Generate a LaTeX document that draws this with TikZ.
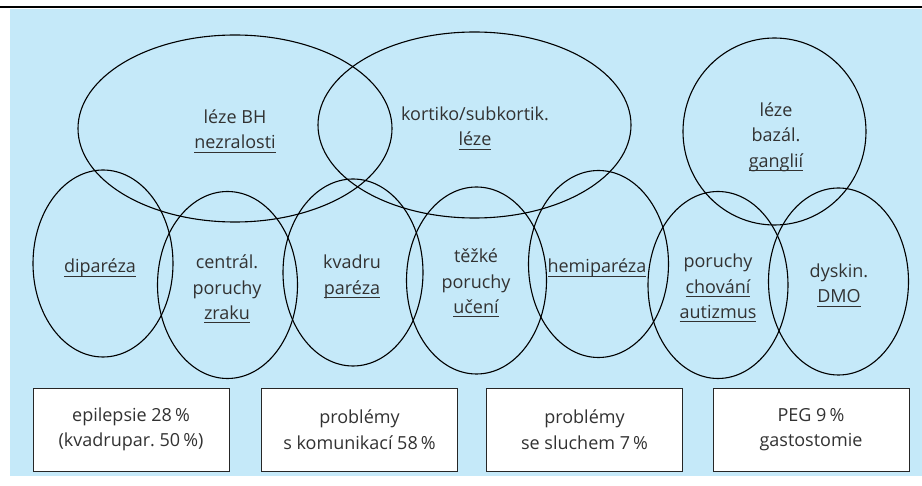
\documentclass[tikz,border=0pt]{standalone}
\usepackage{fontspec}
\setmainfont{Open Sans}
\usetikzlibrary{shapes.geometric}
\definecolor{pozadi}{RGB}{197,233,249}
\definecolor{textseda}{RGB}{50,50,50}
\newcommand\podtrh[1]{\setbox0\hbox{#1}\rlap{\rule[-3.4pt]{\wd0}{0.6pt}}\box0}
\frenchspacing

\begin{document}
\begin{tikzpicture}[x=1pt,y=-1pt,
  every node/.style={font=\fontsize{18}{25.5}\selectfont, text=textseda, align=center, inner sep=0pt},
  kruh/.style={ellipse, draw=black, line width=1.1pt, minimum width=140pt, minimum height=187pt},
  ramecek/.style={draw=black!85, fill=white, line width=0.9pt, minimum width=196pt, minimum height=83pt}]
\useasboundingbox (0,0) rectangle (922,486);
\fill[pozadi] (10,9) rectangle (922,476);
\draw[line width=2pt] (0,7.4) -- (922,7.4);

\node[kruh, minimum width=314pt] (bh) at (235,128.5) {};
\node[kruh, minimum width=313pt, minimum height=186pt] (kort) at (474.5,125) {};
\node[kruh, minimum width=183pt] (bazal) at (774.5,131.5) {};
\node[kruh] (dipar) at (103,263.5) {};
\node[kruh] (zrak) at (227.5,285) {};
\node[kruh] (kvadr) at (353,272.5) {};
\node[kruh] (uceni) at (476.5,280.5) {};
\node[kruh] (hemi) at (598.5,264) {};
\node[kruh] (chovani) at (718,285) {};
\node[kruh] (dyskin) at (838.5,281.5) {};

\node (tbh) at (235,131) {léze BH\\\podtrh{nezralosti}};
\node (tkort) at (475,128) {kortiko/subkortik.\\\podtrh{léze}};
\node (tbazal) at (776,137) {léze\\bazál.\\\podtrh{ganglií}};
\node (tdipar) at (100,268) {\podtrh{diparéza}};
\node (tzrak) at (227,289) {centrál.\\poruchy\\\podtrh{zraku}};
\node (tkvadr) at (352,277) {kvadru\\\podtrh{paréza}};
\node (tuceni) at (476,283) {těžké\\poruchy\\\podtrh{učení}};
\node (themi) at (597,268) {\podtrh{hemiparéza}};
\node (tchovani) at (718,288) {poruchy\\\podtrh{chování}\\\podtrh{autizmus}};
\node (tdyskin) at (839,285) {dyskin.\\\podtrh{DMO}};

\node[ramecek] (epil) at (131,429.5) {epilepsie 28\,\%\\(kvadrupar. 50\,\%)};
\node[ramecek] (komun) at (359.5,429.5) {problémy\\s komunikací 58\,\%};
\node[ramecek] (sluch) at (584.5,429.5) {problémy\\se sluchem 7\,\%};
\node[ramecek] (peg) at (811,429.5) {PEG 9\,\%\\gastostomie};
\end{tikzpicture}
\end{document}
